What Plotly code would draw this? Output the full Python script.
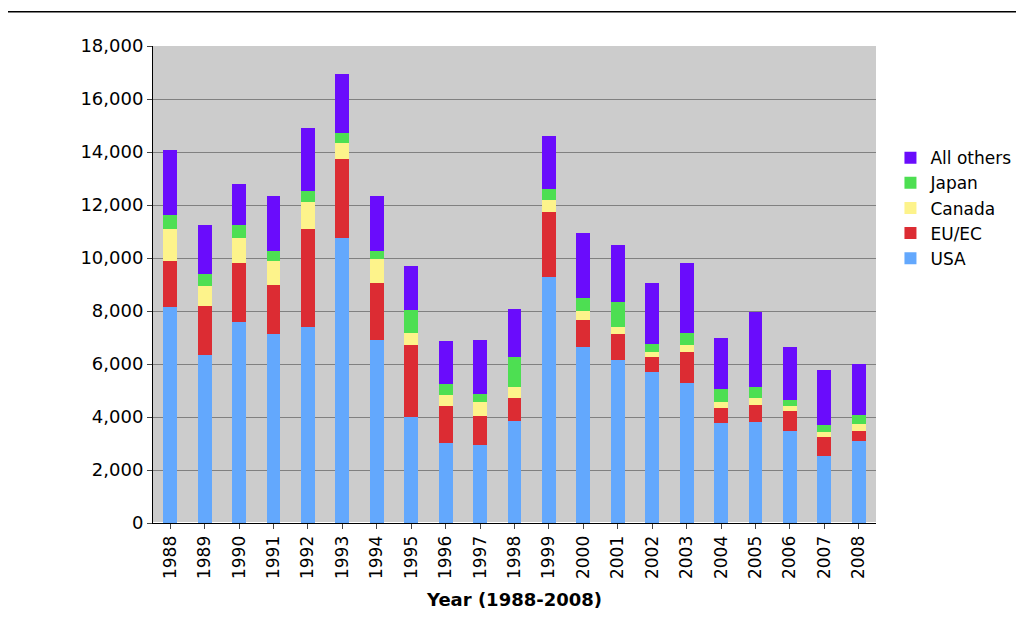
import plotly.graph_objects as go

years = [str(y) for y in range(1988, 2009)]
usa_top    = [8164,6328,7586,7145,7384,10756,6919,4000,3019,2944,3837,9297,6655,6152,5699,5271,3787,3824,3460,2529,3082]
eu_top     = [9875,8190,9825,8982,11083,13725,9070,6718,4428,4051,4730,11750,7674,7133,6277,6441,4353,4466,4239,3233,3472]
canada_top = [11083,8932,10756,9875,12102,14329,9976,7183,4818,4567,5133,12203,8001,7397,6454,6705,4554,4730,4416,3447,3736]
japan_top  = [11611,9397,11247,10265,12542,14719,10278,8026,5233,4856,6252,12605,8504,8340,6768,7183,5045,5133,4642,3686,4089]
total      = [14064,11234,12794,12353,14895,16933,12353,9699,6881,6906,8076,14618,10932,10504,9058,9800,6994,7950,6655,5774,6013]

usa = usa_top
eu = [b - a for a, b in zip(usa_top, eu_top)]
canada = [b - a for a, b in zip(eu_top, canada_top)]
japan = [b - a for a, b in zip(canada_top, japan_top)]
others = [b - a for a, b in zip(japan_top, total)]

series = [("USA", usa, "#63a8fd"), ("EU/EC", eu, "#dc2c33"), ("Canada", canada, "#fdf38b"),
          ("Japan", japan, "#4ddf52"), ("All others", others, "#6a0cfc")]

fig = go.Figure()
for name, vals, col in series:
    fig.add_bar(x=years, y=vals, name=name, marker=dict(color=col, line=dict(width=0)))

fig.update_layout(
    barmode="stack", bargap=0.6, width=1024, height=639,
    paper_bgcolor="white", plot_bgcolor="#cccccc",
    margin=dict(l=145, r=156, t=38, b=124),
    font=dict(family="DejaVu Sans", size=16, color="black"),
    legend=dict(x=1.02, y=0.66, xanchor="left", yanchor="middle", traceorder="reversed",
                font=dict(size=17), bgcolor="white"),
    shapes=[dict(type="rect", xref="paper", yref="paper", x0=-0.205, x1=1.215, y0=-0.26, y1=1.072,
                 line=dict(color="black", width=1.5))],
)
fig.update_xaxes(tickangle=-90, ticks="outside", tickfont=dict(size=17), showline=True, linecolor="black",
                 title=dict(text="<b>Year (1988-2008)</b>", font=dict(size=18)))
fig.update_yaxes(range=[0, 18000], dtick=2000, tickformat=",", gridcolor="#808080", showline=True,
                 linecolor="black", ticks="outside", tickfont=dict(size=18))
fig.write_html("out.html")
